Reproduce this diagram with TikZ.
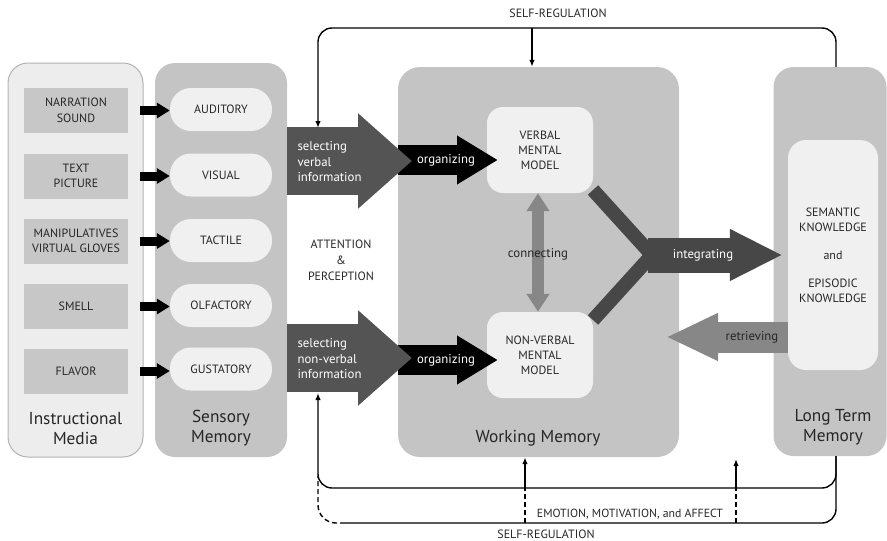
\documentclass[tikz,border=0pt]{standalone}
\usepackage{fontspec}
\setmainfont{PT Sans}
\usetikzlibrary{arrows.meta}

\begin{document}
\begin{tikzpicture}[x=1pt,y=-1pt,
	panel/.style={rounded corners=20pt,inner sep=0pt},
	source/.style={fill=black!22,minimum width=104pt,minimum height=45pt,inner sep=0pt,align=center,text=black!85,font=\fontsize{12}{15.5}\selectfont},
	pill/.style={fill=black!6,rounded corners=21pt,minimum width=102pt,minimum height=43pt,inner sep=0pt,text=black!85,font=\fontsize{12}{15.5}\selectfont},
	model/.style={fill=black!6,rounded corners=16pt,minimum width=106pt,minimum height=86pt,inner sep=0pt,align=center,text=black!85,font=\fontsize{12}{15}\selectfont},
	memlabel/.style={align=center,text=black!85,font=\fontsize{17.3}{20}\selectfont},
	caps/.style={align=center,text=black!85,font=\fontsize{12}{15.5}\selectfont},
	flowtext/.style={text=white,font=\fontsize{12.8}{15.5}\selectfont},
	feed/.style={line width=9pt,black,shorten <=12pt,-{Triangle[length=13pt,width=15pt]}},
	regline/.style={line width=1.4pt,rounded corners=14pt},
	regdash/.style={line width=1.4pt,dash pattern=on 5pt off 3pt}
	]

\def\SENSECOLOR{black!23}
\def\SELCOLOR{black!67}
\def\LINKCOLOR{black!72}
\def\BACKCOLOR{black!47}
	\useasboundingbox (0,0) rectangle (887,541);

	\node[panel,fill=black!7,draw=black!30,line width=1pt,minimum width=135pt,minimum height=394pt] (media) at (75.5,260) {};
	\node[panel,fill=\SENSECOLOR,minimum width=132pt,minimum height=394pt] (sens) at (221,260) {};
	\node[panel,fill=\SENSECOLOR,rounded corners=22pt,minimum width=281pt,minimum height=390pt] (wm) at (538.5,262) {};
	\node[panel,fill=\SENSECOLOR,minimum width=113pt,minimum height=389pt] (ltm) at (830,261.5) {};
	\node[model,rounded corners=18pt,minimum width=90pt,minimum height=230pt] (know) at (833,255) {SEMANTIC\\KNOWLEDGE\\[13pt]and\\[13pt]EPISODIC\\KNOWLEDGE};

	\node[source] (nar) at (76,110.5) {NARRATION\\SOUND};
	\node[source] (txt) at (76,176) {TEXT\\PICTURE};
	\node[source] (man) at (76,241) {MANIPULATIVES\\VIRTUAL GLOVES};
	\node[source] (sme) at (76,306.5) {SMELL};
	\node[source] (fla) at (76,371) {FLAVOR};

	\node[pill] (aud) at (221,109.5) {AUDITORY};
	\node[pill] (vis) at (221,175) {VISUAL};
	\node[pill] (tac) at (221,240.5) {TACTILE};
	\node[pill] (olf) at (221,305.5) {OLFACTORY};
	\node[pill] (gus) at (221,369) {GUSTATORY};

	\draw[feed] (nar.east) -- (nar.east -| aud.west);
	\draw[feed] (txt.east) -- (txt.east -| vis.west);
	\draw[feed] (man.east) -- (man.east -| tac.west);
	\draw[feed] (sme.east) -- (sme.east -| olf.west);
	\draw[feed] (fla.east) -- (fla.east -| gus.west);

	\node[memlabel] (medialab) at (75.5,428) {Instructional\\Media};
	\node[memlabel] (senslab) at (221,428) {Sensory\\Memory};
	\node[memlabel] (wmlab) at (538,438) {Working Memory};
	\node[memlabel] (ltmlab) at (833,427) {Long Term\\Memory};

	\coordinate (jn) at (652,255);
	\draw[\LINKCOLOR,line width=14pt] (593,190) -- (jn);
	\draw[\LINKCOLOR,line width=14pt] (593,320) -- (jn);

	\node[model] (verb) at (540,150) {VERBAL\\MENTAL\\MODEL};
	\node[model] (nonv) at (540,355) {NON-VERBAL\\MENTAL\\MODEL};

	\coordinate (ovt) at (498,160);
	\coordinate (ont) at (498,360);
	\draw[line width=30pt,black,-{Triangle[length=41pt,width=46pt]}] (wm.west |- ovt) -- (ovt);
	\draw[line width=30pt,black,-{Triangle[length=41pt,width=46pt]}] (wm.west |- ont) -- (ont);
	\node[flowtext] (orgv) at (446,160) {organizing};
	\node[flowtext] (orgn) at (446,360) {organizing};

	\coordinate (svt) at (412,161);
	\coordinate (snt) at (412,358);
	\draw[line width=68pt,\SELCOLOR,-{Triangle[length=54pt,width=92pt]}] (sens.east |- svt) -- (svt);
	\draw[line width=68pt,\SELCOLOR,-{Triangle[length=54pt,width=92pt]}] (sens.east |- snt) -- (snt);
	\node[flowtext,anchor=west,align=left] (selv) at (294,162) {selecting\\verbal\\information};
	\node[flowtext,anchor=west,align=left] (seln) at (294,359) {selecting\\non-verbal\\information};

	\node[caps,font=\fontsize{12}{16}\selectfont] (att) at (341,260) {ATTENTION\\\&\\PERCEPTION};

	\draw[line width=12pt,\BACKCOLOR,{Triangle[length=18pt,width=22pt]}-{Triangle[length=18pt,width=22pt]}] ([xshift=-2pt]verb.south) -- ([xshift=-2pt]nonv.north);
	\node[text=black!85,font=\fontsize{12.8}{15}\selectfont] (con) at (538,254) {connecting};

	\draw[line width=35pt,\LINKCOLOR,-{Triangle[length=53pt,width=48pt]}] ([xshift=-4pt]jn) -- ([xshift=-5pt]know.west |- jn);
	\node[flowtext] (integ) at (703,255) {integrating};

	\coordinate (rt) at (666,337);
	\draw[line width=31pt,\BACKCOLOR,-{Triangle[length=52pt,width=44pt]}] (know.west |- rt) -- (rt);
	\node[text=black!85,font=\fontsize{12.8}{15}\selectfont] (retr) at (752,337) {retrieving};

	\coordinate (srt) at (318,28);
	\coordinate (srm) at (532,28);
	\coordinate (sva) at (318,128);
	\draw[regline,-{Latex[length=7pt,width=5.5pt]}] ([xshift=6pt]ltm.north) |- (srt) -- (sva);
	\draw[line width=1.4pt,-{Latex[length=7pt,width=5.5pt]}] (srm) -- (srm |- wm.north);
	\node[caps] (srtop) at (558,13) {SELF-REGULATION};

	\coordinate (emo) at (318,488);
	\coordinate (nva) at (318,393);
	\coordinate (sro) at (345,523);
	\coordinate (srl) at (318,476);
	\draw[regline,-{Latex[length=7pt,width=5.5pt]}] ([xshift=6pt]ltm.south) |- (emo) -- (nva);
	\draw[regline] ([xshift=6pt]ltm.south) |- (sro);
	\draw[regdash,rounded corners=18pt] (sro) -| (srl);

	\coordinate (ea) at (525,488);
	\coordinate (eb) at (736,488);
	\draw[line width=1.4pt,-{Latex[length=7pt,width=5.5pt]}] (ea) -- (ea |- wm.south);
	\draw[line width=1.4pt,-{Latex[length=7pt,width=5.5pt]}] (eb) -- (736,459);
	\draw[regdash] (ea |- sro) -- (ea);
	\draw[regdash] (eb |- sro) -- (eb);
	\node[caps,font=\fontsize{11.8}{15}\selectfont] (emolab) at (630,514) {EMOTION, MOTIVATION, and AFFECT};
	\node[caps,anchor=base,inner sep=0pt] (srbot) at (546,538) {SELF-REGULATION};

\end{tikzpicture}
\end{document}
